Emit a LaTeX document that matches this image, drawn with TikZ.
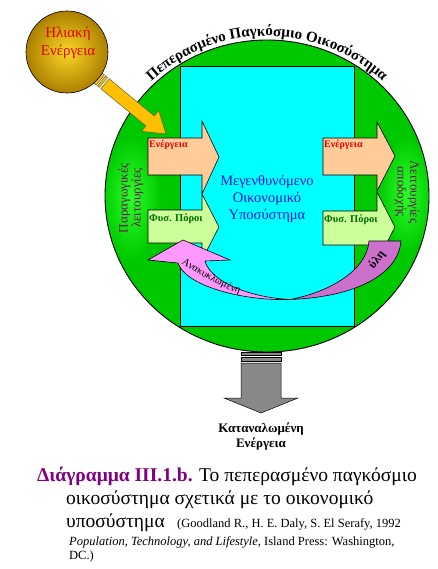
\documentclass[tikz,border=0pt]{standalone}
\usepackage{fontspec}
\setmainfont{Liberation Serif}
\usetikzlibrary{decorations.text}
\definecolor{cgreen}{RGB}{0,200,0}
\definecolor{cglow}{RGB}{40,255,40}
\definecolor{ccyan}{RGB}{0,255,255}
\definecolor{cpeach}{RGB}{255,204,153}
\definecolor{clgreen}{RGB}{204,255,153}
\definecolor{cpink}{RGB}{255,153,255}
\definecolor{cviolet}{RGB}{204,112,204}
\definecolor{cgold}{RGB}{255,192,0}
\definecolor{cgray}{RGB}{136,136,136}
\definecolor{cside}{RGB}{110,20,80}
\definecolor{cblue}{RGB}{20,20,225}
\definecolor{cred}{RGB}{230,0,0}
\definecolor{cdgreen}{RGB}{0,110,0}
\definecolor{cpurple}{RGB}{128,0,128}
\newcommand{\fs}[1]{\fontsize{#1}{#1}\selectfont}
\begin{document}
\begin{tikzpicture}[x=1pt,y=-1pt,
  outl/.style={draw=black,line width=0.6pt},
  blockE/.style={outl,fill=cpeach},
  blockF/.style={outl,fill=clgreen},
  yarrow/.style={draw=black!70,line width=0.4pt,fill=cgold},
  garrow/.style={draw=black,line width=0.5pt,fill=cgray},
  lblE/.style={text=cred,font=\bfseries\fs{10},anchor=west,inner sep=0pt},
  lblF/.style={text=cdgreen,font=\bfseries\fs{10.5},anchor=west,inner sep=0pt},
  sidelbl/.style={text=cside,font=\fs{13},align=center,inner sep=0pt},
  captxt/.style={anchor=base west,inner sep=0pt}]
\useasboundingbox (0,0) rectangle (437,569);
\fill[white] (0,0) rectangle (437,569);

% global ecosystem
\fill[cgreen] (267,196) ellipse [x radius=162, y radius=156];
\begin{scope}
  \clip (267,196) ellipse [x radius=162, y radius=156];
  \shade[inner color=cglow, outer color=cgreen] (131,198) ellipse [x radius=30, y radius=62];
  \shade[inner color=cglow, outer color=cgreen] (406,194) ellipse [x radius=28, y radius=58];
\end{scope}
\draw[line width=0.9pt] (267,196) ellipse [x radius=162, y radius=156];

% economic subsystem
\filldraw[fill=ccyan,draw=black,line width=0.8pt] (180,66) rectangle (354,326);

% block arrows
\filldraw[blockE] (148,138) -- (202,138) -- (202,121) -- (219,157) -- (202,194) -- (202,175) -- (148,175) -- cycle;
\filldraw[blockF] (148,210) -- (202,210) -- (202,194) -- (219,227) -- (202,260) -- (202,243) -- (148,243) -- cycle;
\filldraw[blockE] (323,138) -- (377,138) -- (377,122) -- (395,156) -- (377,191) -- (377,175) -- (323,175) -- cycle;
\filldraw[blockF] (323,211) -- (377,211) -- (377,192) -- (395,227) -- (377,262) -- (377,245) -- (323,245) -- cycle;

% recycling arrows
\filldraw[outl,fill=cviolet] (369,241) -- (401,241) .. controls (398,275) and (355,297) .. (290,299.5)
   .. controls (330,292) and (367,270) .. (369,241) -- cycle;
\filldraw[outl,fill=cpink] (183,240) -- (230,260) -- (205,261) .. controls (210,280) and (245,297) .. (290,299.5)
   .. controls (240,301) and (185,285) .. (178,263) -- (148,260) -- cycle;

% solar arrow
\begin{scope}[shift={(98,78)}, rotate=-39.5]
  \filldraw[yarrow] (0,-6.5) rectangle (3,6.5);
  \filldraw[yarrow] (4.5,-6.5) rectangle (7,6.5);
  \filldraw[yarrow] (9,-6.5) -- (67.5,-6.5) -- (67.5,-13.5) -- (88,0) -- (67.5,13.5) -- (67.5,6.5) -- (9,6.5) -- cycle;
\end{scope}

% sun
\shade[inner color={rgb,255:red,250;green,214;blue,40}, outer color={rgb,255:red,172;green,128;blue,0}] (67,52) circle [radius=41];
\draw[line width=0.6pt] (67,52) circle [radius=41];
\node[text=cred,font=\fs{15},align=center] (sun) at (68,43) {Ηλιακή\\[3pt]Ενέργεια};

% dissipated energy arrow
\filldraw[garrow] (241,352) rectangle (281,355);
\filldraw[garrow] (241,357.5) rectangle (281,361);
\filldraw[garrow] (241,363) -- (281,363) -- (281,398) -- (298,398) -- (261,413) -- (224,398) -- (241,398) -- cycle;
\node[font=\bfseries\fs{13},align=center] (waste) at (261,437) {Καταναλωμένη\\[2pt]Ενέργεια};

% title on arc
\path[decorate,decoration={text along path,text align=center,
   text={|\bfseries\fs{15}|Πεπερασμένο Παγκόσμιο Οικοσύστημα}}]
   (267,196) ++(-143:166 and 160) arc [start angle=-143, end angle=-37, x radius=166, y radius=160];

% labels
\node[lblE] (e1) at (149,145) {Ενέργεια};
\node[lblF] (f1) at (149,219) {Φυσ. Πόροι};
\node[lblE] (e2) at (324,145) {Ενέργεια};
\node[lblF] (f2) at (324,220) {Φυσ. Πόροι};
\node[text=cblue,font=\fs{14.5},align=center] (econ) at (267,199) {Μεγενθυνόμενο\\[2.5pt]Οικονομικό\\[2.5pt]Υποσύστημα};
\node[sidelbl,rotate=90] (src) at (131,198) {Παραγωγικές\\λειτουργίες};
\node[sidelbl,rotate=-90] (sink) at (407,192) {Λειτουργίες\\αποδοχής};
\path[decorate,decoration={text along path,text align=center,
   text={|\fs{10.5}|Ανακυκλωμένη}}]
   (170,256) .. controls (193,270) and (215,287) .. (252,298);
\node[font=\bfseries\fs{12},rotate=52,inner sep=0pt] (mat) at (377,260) {ύλη};

% caption
\node[captxt,font=\fs{19.5}] (c1) at (37,481) {\textcolor{cpurple}{\bfseries Διάγραμμα III.1.b.} Το πεπερασμένο παγκόσμιο};
\node[captxt,font=\fs{19.5}] (c2) at (66,504) {οικοσύστημα σχετικά με το οικονομικό};
\node[captxt,font=\fs{19.5}] (c3) at (66,527) {υποσύστημα};
\node[captxt,font=\fs{12.5}] (c3b) at (177,527) {(Goodland R., H. E. Daly, S. El Serafy, 1992};
\node[captxt,font=\fs{12.5}] (c4) at (69,545) {\textit{Population, Technology, and Lifestyle}, Island Press: Washington,};
\node[captxt,font=\fs{12.5}] (c5) at (69,559) {DC.)};
\end{tikzpicture}
\end{document}
